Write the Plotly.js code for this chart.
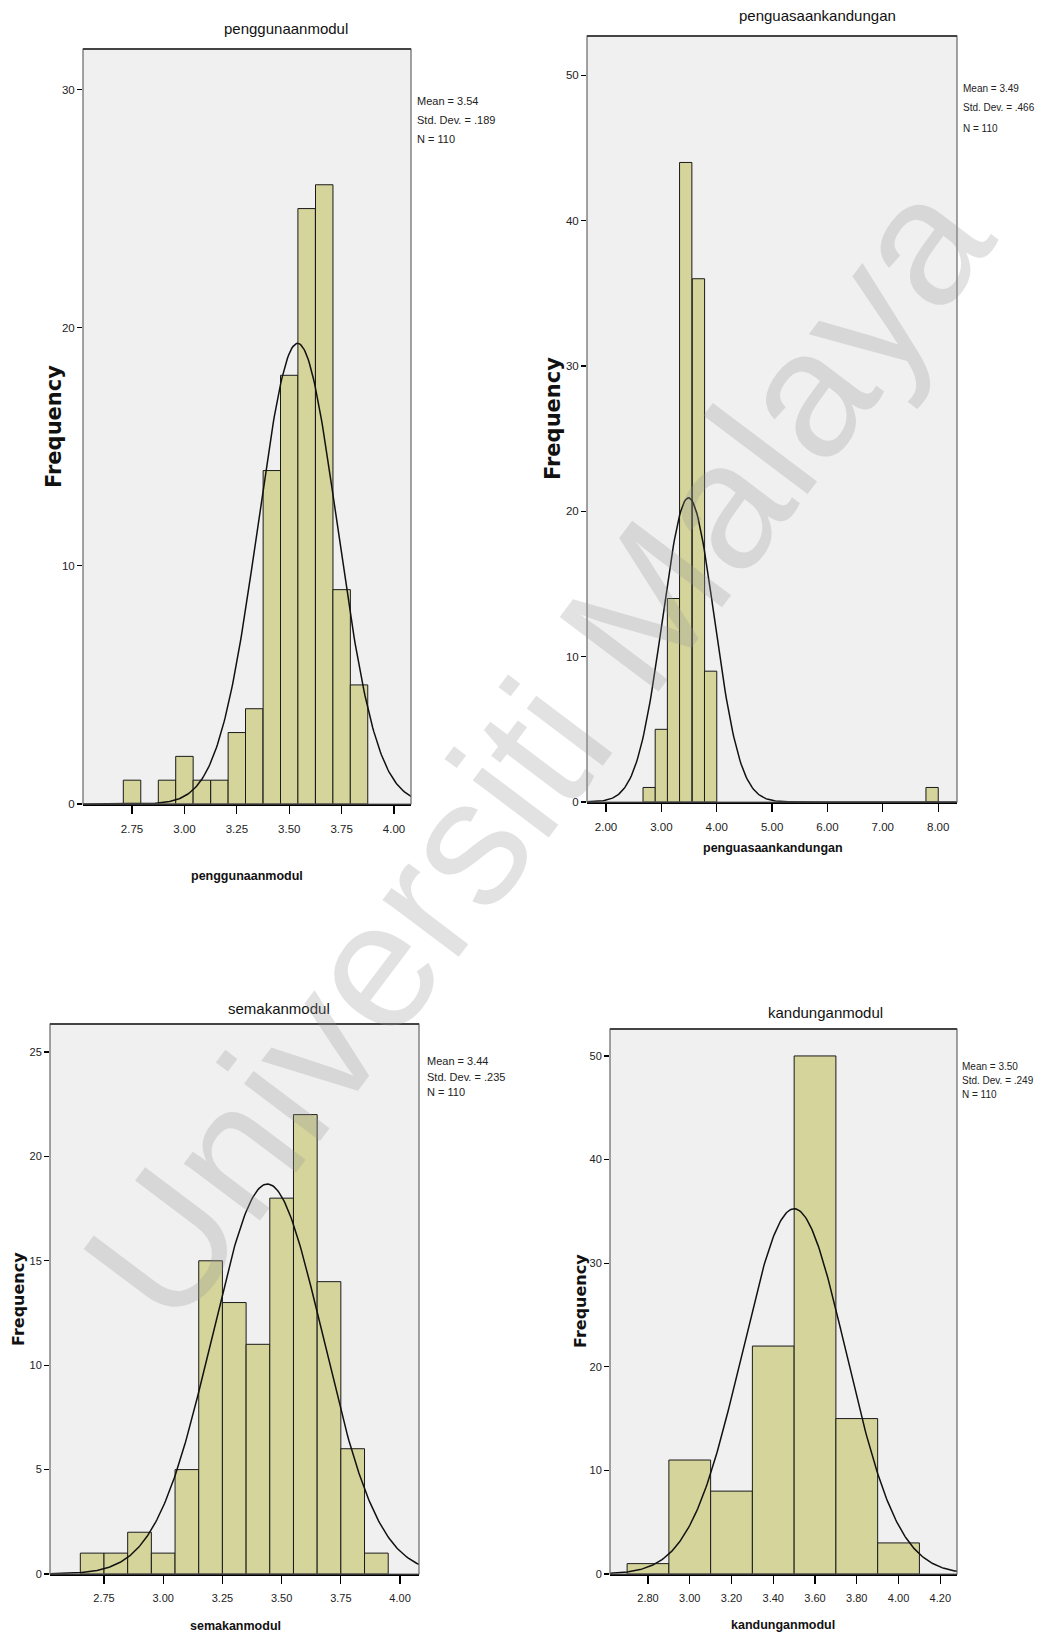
<!DOCTYPE html>
<html>
<head>
<meta charset="utf-8">
<script src="https://cdn.plot.ly/plotly-3.0.1.min.js"></script>
<style>
  html, body { margin: 0; padding: 0; background: #ffffff; }
  #chart { width: 1038px; height: 1638px; }
</style>
</head>
<body>
<div id="chart"></div>
<script>
// ---------------- DATA ----------------
const titles = ['penggunaanmodul', 'penguasaankandungan', 'semakanmodul', 'kandunganmodul'];
const yAxisLabel = 'Frequency';

const binCenters1 = [2.75, 2.917, 3.0, 3.083, 3.167, 3.25, 3.333, 3.417, 3.5, 3.583, 3.667, 3.75, 3.833];
const counts1     = [1, 1, 2, 1, 1, 3, 4, 14, 18, 25, 26, 9, 5];

const binCenters2 = [2.78, 3.00, 3.22, 3.44, 3.67, 3.89, 7.89];
const counts2     = [1, 5, 14, 44, 36, 9, 1];

const binCenters3 = [2.7, 2.8, 2.9, 3.0, 3.1, 3.2, 3.3, 3.4, 3.5, 3.6, 3.7, 3.8, 3.9];
const counts3     = [1, 1, 2, 1, 5, 15, 13, 11, 18, 22, 14, 6, 1];

const binCenters4 = [2.8, 3.0, 3.2, 3.4, 3.6, 3.8, 4.0];
const counts4     = [1, 11, 8, 22, 50, 15, 3];

const binWidths = [0.0833, 0.2222, 0.1, 0.2];
const means     = [3.54, 3.49, 3.44, 3.50];
const stdDevs   = [0.189, 0.466, 0.235, 0.249];
const nCases    = [110, 110, 110, 110];
const meanText  = ['3.54', '3.49', '3.44', '3.50'];
const sdText    = ['.189', '.466', '.235', '.249'];

const xTickVals1 = [2.75, 3.00, 3.25, 3.50, 3.75, 4.00];
const xTickText1 = ['2.75', '3.00', '3.25', '3.50', '3.75', '4.00'];
const xTickVals2 = [2, 3, 4, 5, 6, 7, 8];
const xTickText2 = ['2.00', '3.00', '4.00', '5.00', '6.00', '7.00', '8.00'];
const xTickVals3 = [2.75, 3.00, 3.25, 3.50, 3.75, 4.00];
const xTickText3 = ['2.75', '3.00', '3.25', '3.50', '3.75', '4.00'];
const xTickVals4 = [2.8, 3.0, 3.2, 3.4, 3.6, 3.8, 4.0, 4.2];
const xTickText4 = ['2.80', '3.00', '3.20', '3.40', '3.60', '3.80', '4.00', '4.20'];

const yTickVals1 = [0, 10, 20, 30];
const yTickVals2 = [0, 10, 20, 30, 40, 50];
const yTickVals3 = [0, 5, 10, 15, 20, 25];
const yTickVals4 = [0, 10, 20, 30, 40, 50];

const watermark = 'Universiti Malaya';

// ---------------- LAYOUT / STYLE ----------------
const W = 1038, H = 1638;
const px = v => v / W;
const py = v => 1 - v / H;

// plot boxes in pixels: [left, right, top, bottom]
const boxes = [[83, 411, 49, 804], [587, 957, 36, 802], [50, 419, 1024, 1574], [610, 957, 1029, 1574]];
const xRanges = [[2.516, 4.081], [1.657, 8.34], [2.522, 4.08], [2.618, 4.28]];
const yRanges = [[0, 31.7], [0, 52.7], [0, 26.34], [0, 52.6]];

const panels = [
  {centers: binCenters1, counts: counts1, xt: xTickVals1, xtt: xTickText1, yt: yTickVals1},
  {centers: binCenters2, counts: counts2, xt: xTickVals2, xtt: xTickText2, yt: yTickVals2},
  {centers: binCenters3, counts: counts3, xt: xTickVals3, xtt: xTickText3, yt: yTickVals3},
  {centers: binCenters4, counts: counts4, xt: xTickVals4, xtt: xTickText4, yt: yTickVals4}
];

// text positions (pixels)
const titlePos  = [[286, 28], [817, 16], [279, 1008], [825, 1012]];
const xTitlePos = [[247, 876], [773, 848], [235, 1626], [783, 1625]];
const yTitlePos = [[54, 427], [553, 419], [18, 1299], [580, 1301]];
const statsPos  = [[415, [101, 120, 139]], [961, [88, 108, 129]], [425, [1061, 1077, 1092]], [960, [1066, 1080, 1094]]];
const statsSize = [11, 10, 11, 10];
const tickSize  = [11.5, 11.5, 11, 11];
const yTitleSize = [21, 21, 16, 16];

const sans = "'Liberation Sans', Arial, sans-serif";
const barFill = '#D5D49B';

const traces = [];
const layout = {
  width: W, height: H,
  margin: {l: 0, r: 0, t: 0, b: 0},
  paper_bgcolor: '#ffffff',
  plot_bgcolor: '#F0F0F1',
  showlegend: false,
  bargap: 0,
  annotations: [],
  shapes: []
};

panels.forEach((p, i) => {
  const sfx = i === 0 ? '' : String(i + 1);
  const xa = 'x' + sfx, ya = 'y' + sfx;
  const b = boxes[i];

  traces.push({
    type: 'bar', x: p.centers, y: p.counts, width: binWidths[i],
    xaxis: xa, yaxis: ya,
    marker: {color: barFill, line: {color: '#1a1a1a', width: 1}},
    hoverinfo: 'skip'
  });

  // fitted normal curve from reported mean / std. dev. / N
  const cx = [], cy = [];
  const steps = 300;
  const r = xRanges[i];
  for (let k = 0; k <= steps; k++) {
    const x = r[0] + (r[1] - r[0]) * k / steps;
    const z = (x - means[i]) / stdDevs[i];
    cx.push(x);
    cy.push(nCases[i] * binWidths[i] * Math.exp(-0.5 * z * z) / (stdDevs[i] * Math.sqrt(2 * Math.PI)));
  }
  traces.push({
    type: 'scatter', mode: 'lines', x: cx, y: cy, xaxis: xa, yaxis: ya,
    line: {color: '#111', width: 1.5}, hoverinfo: 'skip'
  });

  layout['xaxis' + sfx] = {
    domain: [px(b[0]), px(b[1])], anchor: ya, range: xRanges[i],
    showgrid: false, zeroline: false,
    showline: true, linecolor: '#000', linewidth: 2,
    ticks: 'outside', ticklen: 8, tickwidth: 1.3, tickcolor: '#000',
    ticklabelstandoff: 5,
    tickvals: p.xt, ticktext: p.xtt,
    tickfont: {family: sans, size: tickSize[i], color: '#222'}
  };
  layout['yaxis' + sfx] = {
    domain: [py(b[3]), py(b[2])], anchor: xa, range: yRanges[i],
    showgrid: false, zeroline: false,
    showline: false,
    ticks: 'outside', ticklen: 5, tickwidth: 1.3, tickcolor: '#000',
    tickvals: p.yt,
    tickfont: {family: sans, size: tickSize[i], color: '#222'}
  };

  // plot frame
  layout.shapes.push({
    type: 'rect', xref: 'paper', yref: 'paper', layer: 'above',
    x0: px(b[0]), x1: px(b[1]), y0: py(b[3]), y1: py(b[2]),
    line: {color: '#666', width: 1.2}
  });
  layout.shapes.push({
    type: 'line', xref: 'paper', yref: 'paper', layer: 'above',
    x0: px(b[0]), x1: px(b[1]), y0: py(b[2]), y1: py(b[2]),
    line: {color: '#444', width: 2.2}
  });

  // chart title
  layout.annotations.push({
    xref: 'paper', yref: 'paper', x: px(titlePos[i][0]), y: py(titlePos[i][1]),
    xanchor: 'center', yanchor: 'middle', showarrow: false,
    text: titles[i], font: {family: sans, size: 15, color: '#111'}
  });
  // x axis title
  layout.annotations.push({
    xref: 'paper', yref: 'paper', x: px(xTitlePos[i][0]), y: py(xTitlePos[i][1]),
    xanchor: 'center', yanchor: 'middle', showarrow: false,
    text: titles[i], font: {family: sans, size: 12.5, color: '#111', weight: 'bold'}
  });
  // y axis title
  layout.annotations.push({
    xref: 'paper', yref: 'paper', x: px(yTitlePos[i][0]), y: py(yTitlePos[i][1]),
    xanchor: 'center', yanchor: 'middle', showarrow: false, textangle: -90,
    text: yAxisLabel, font: {family: "'DejaVu Sans', 'Liberation Sans', sans-serif", size: yTitleSize[i], color: '#111', weight: 'bold'}
  });
  // stats
  const lines = ['Mean = ' + meanText[i], 'Std. Dev. = ' + sdText[i], 'N = ' + nCases[i]];
  lines.forEach((t, j) => {
    layout.annotations.push({
      xref: 'paper', yref: 'paper', x: px(statsPos[i][0]), y: py(statsPos[i][1][j]),
      xanchor: 'left', yanchor: 'middle', showarrow: false,
      text: t, font: {family: sans, size: statsSize[i], color: '#222'}
    });
  });
});

// watermark
layout.annotations.push({
  xref: 'paper', yref: 'paper', x: px(537), y: py(750),
  xanchor: 'center', yanchor: 'middle', showarrow: false, textangle: -53,
  text: watermark, font: {family: sans, size: 180, color: 'rgba(150,150,150,0.28)'}
});

Plotly.newPlot('chart', traces, layout, {staticPlot: true, displayModeBar: false});
</script>
</body>
</html>
